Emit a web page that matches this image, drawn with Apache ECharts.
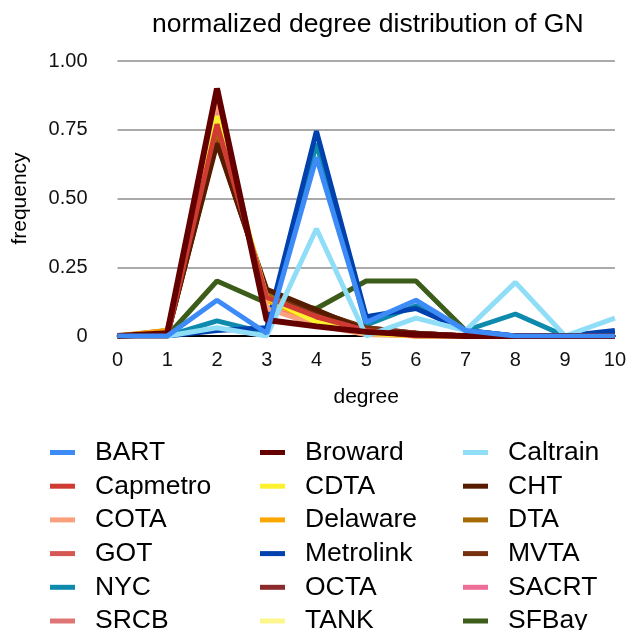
<!DOCTYPE html>
<html>
<head>
<meta charset="utf-8">
<script src="https://cdn.jsdelivr.net/npm/echarts@6/dist/echarts.min.js"></script>
<style>html,body{margin:0;padding:0;background:#fff}#c{width:629px;height:630px}</style>
</head>
<body>
<div id="c"></div>
<script>
const degrees = [0,1,2,3,4,5,6,7,8,9,10];
const yTicks = [0, 0.25, 0.5, 0.75, 1.0];

const BART      = [0, 0,    0.13, 0.01, 0.65, 0.05, 0.13, 0.02, 0,     0, 0];
const Broward   = [0, 0.01, 0.90, 0.058,0.035,0.015,0.005,0,    0,     0, 0];
const Caltrain  = [0, 0,    0.03, 0,    0.39, 0,    0.065,0.02, 0.195, 0, 0.065];
const Capmetro  = [0, 0,    0.77, 0.14, 0.07, 0.02, 0,    0,    0,     0, 0];
const CDTA      = [0, 0.01, 0.80, 0.14, 0.05, 0.01, 0,    0,    0,     0, 0];
const CHT       = [0, 0.005,0.70, 0.17, 0.095,0.02, 0.01, 0,    0,     0, 0];
const COTA      = [0, 0,    0.86, 0.10, 0.04, 0.005,0,    0,    0,     0, 0];
const Delaware  = [0, 0.02, 0.78, 0.13, 0.05, 0.02, 0,    0,    0,     0, 0];
const DTA       = [0, 0.02, 0.75, 0.15, 0.06, 0.02, 0,    0,    0,     0, 0];
const GOT       = [0, 0,    0.76, 0.14, 0.07, 0.02, 0.01, 0,    0,     0, 0];
const Metrolink = [0, 0,    0.02, 0.03, 0.745,0.07, 0.10, 0.02, 0,     0, 0.02];
const MVTA      = [0, 0,    0.71, 0.16, 0.09, 0.03, 0.01, 0,    0,     0, 0];
const NYC       = [0, 0,    0.055,0.01, 0.70, 0.04, 0.11, 0.02, 0.08,  0, 0];
const OCTA      = [0, 0,    0.72, 0.16, 0.08, 0.03, 0.01, 0,    0,     0, 0];
const SACRT     = [0, 0,    0.82, 0.10, 0.05, 0.02, 0.01, 0,    0,     0, 0];
const SRCB      = [0, 0,    0.75, 0.15, 0.07, 0.02, 0,    0,    0,     0, 0];
const TANK      = [0, 0,    0.80, 0.12, 0.06, 0.02, 0,    0,    0,     0, 0];
const SFBay     = [0, 0,    0.20, 0.12, 0.10, 0.20, 0.20, 0.02, 0,     0, 0];

const seriesNames = ["BART","Broward","Caltrain","Capmetro","CDTA","CHT","COTA","Delaware","DTA","GOT","Metrolink","MVTA","NYC","OCTA","SACRT","SRCB","TANK","SFBay"];
const seriesValues = [BART,Broward,Caltrain,Capmetro,CDTA,CHT,COTA,Delaware,DTA,GOT,Metrolink,MVTA,NYC,OCTA,SACRT,SRCB,TANK,SFBay];
const seriesColors = ["#3d8bf7","#640000","#90ddf8","#cf3b32","#fcf12e","#561c00","#fba07c","#fca600","#a66a05","#d55852","#0041ad","#773110","#0e8aad","#8a2a2a","#ee6e98","#dd7674","#fdf68c","#3c5c1a"];

const legendCols = [
  ["BART","Capmetro","COTA","GOT","NYC","SRCB"],
  ["Broward","CDTA","Delaware","Metrolink","OCTA","TANK"],
  ["Caltrain","CHT","DTA","MVTA","SACRT","SFBay"]
];
const legendLeft = [50, 260, 463];

const FONT = "Liberation Sans, Arial, Helvetica, sans-serif";

const series = [];
for (let i = seriesNames.length - 1; i >= 0; i--) {
  series.push({
    name: seriesNames[i],
    type: 'line',
    data: degrees.map((d, k) => [d, seriesValues[i][k]]),
    showSymbol: false,
    symbol: 'none',
    lineStyle: { width: seriesNames[i] === 'Broward' ? 6 : 5, color: seriesColors[i], join: 'bevel' },
    itemStyle: { color: seriesColors[i] },
    emphasis: { disabled: true },
    animation: false
  });
}

const legends = legendCols.map((col, j) => ({
  data: col,
  orient: 'vertical',
  left: legendLeft[j],
  top: 439,
  height: 260,
  padding: 0,
  icon: 'rect',
  itemWidth: 25,
  itemHeight: 5,
  itemGap: 6.7,
  selectedMode: false,
  textStyle: { fontFamily: FONT, fontSize: 26.5, color: '#000', lineHeight: 26, padding: [0,0,0,15] }
}));

const chart = echarts.init(document.getElementById('c'), null, { renderer: 'canvas' });
chart.setOption({
  animation: false,
  backgroundColor: '#fff',
  title: {
    text: 'normalized degree distribution of GN',
    left: 147, top: 6,
    textStyle: { fontFamily: FONT, fontSize: 26.5, fontWeight: 'normal', color: '#000' }
  },
  legend: legends,
  grid: { left: 117.5, right: 14, top: 61, bottom: 294, containLabel: false },
  xAxis: {
    type: 'value', min: 0, max: 10, interval: 1,
    name: 'degree', nameLocation: 'middle', nameGap: 51,
    nameTextStyle: { fontFamily: FONT, fontSize: 21, color: '#000' },
    axisLine: { show: true, lineStyle: { color: '#000', width: 2 } },
    axisTick: { show: false },
    splitLine: { show: false },
    axisLabel: { fontFamily: FONT, fontSize: 20, color: '#111', margin: 14,
      formatter: v => degrees.includes(v) ? String(v) : '' }
  },
  yAxis: {
    type: 'value', min: 0, max: 1, interval: 0.25,
    name: 'frequency', nameLocation: 'middle', nameGap: 87, nameRotate: 90,
    nameTextStyle: { fontFamily: FONT, fontSize: 21, color: '#000' },
    axisLine: { show: false },
    axisTick: { show: false },
    splitLine: { show: true, lineStyle: { color: '#aaaaaa', width: 2 } },
    axisLabel: { fontFamily: FONT, fontSize: 20, color: '#111', margin: 30,
      formatter: v => { const t = yTicks.find(y => Math.abs(y - v) < 1e-9); return t === undefined ? '' : (t === 0 ? '0' : t.toFixed(2)); } }
  },
  series: series
});
</script>
</body>
</html>
